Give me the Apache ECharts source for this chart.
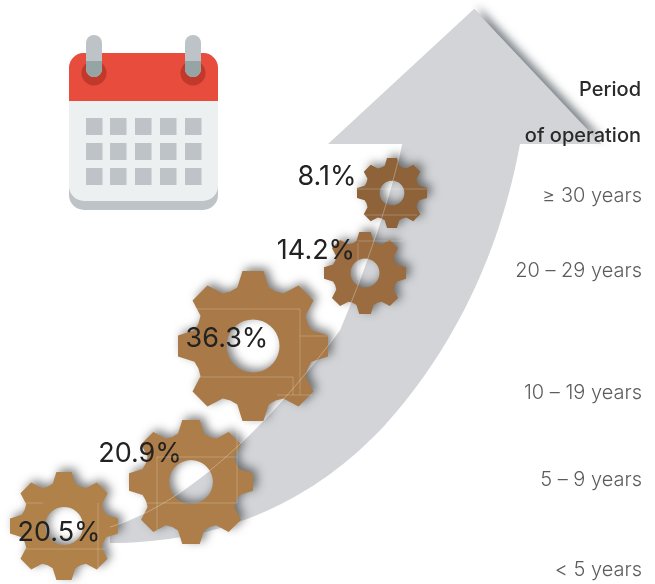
<!DOCTYPE html>
<html>
<head>
<meta charset="utf-8">
<style>
  html, body { margin: 0; padding: 0; background: #fff; }
  #viz { width: 655px; height: 584px; }
</style>
<script src="https://cdn.jsdelivr.net/npm/echarts@6/dist/echarts.min.js"></script>
</head>
<body>
<div id="viz"></div>
<script>
// --- data --- //
const periods = ['≥ 30 years', '20 – 29 years', '10 – 19 years', '5 – 9 years', '< 5 years'];
const shares = [8.1, 14.2, 36.3, 20.9, 20.5];

// --- layout of the infographic, in page pixels --- //
const gearX = [392, 365, 253, 191, 64];
const gearY = [193, 273, 346, 482, 526];
const gearRadius = [35, 41, 75, 62, 54];
const gearColor = ['#8e6339', '#9a6c40', '#a97a47', '#ad7e49', '#b08148'];
const labelShift = [[-65, -16], [-49, -22], [-26, -7], [-51, -28], [-5, 7]];
const periodY = [196, 271, 393, 480, 570];

// faint construction lines that show on the gears
const faintLines = [
  [197, 309, 300, 309], [300, 309, 300, 395], [300, 336, 328, 336], [198, 377, 293, 377], [293, 377, 293, 395], [277, 395, 312, 395],
  [157, 457, 237, 457], [237, 427, 237, 503], [145, 503, 237, 503], [157, 457, 157, 530],
  [25, 503, 43, 503], [98, 503, 98, 568], [25, 549, 105, 549],
  [358, 243, 358, 280], [358, 241, 403, 241],
  [357, 189, 427, 189], [365, 215, 417, 215]
];

const FONT = 'Inter';

// --- gear outline, 8 teeth and a hole, in a unit box --- //
function gearPath() {
  const pts = [];
  const teeth = 8;
  for (let i = 0; i < teeth; i++) {
    const a = (i * 360) / teeth - 90;
    [[-22.5, 0.78], [-15, 0.8], [-8, 1], [8, 1], [15, 0.8]].forEach(function (p) {
      const t = ((a + p[0]) * Math.PI) / 180;
      pts.push((100 + 100 * p[1] * Math.cos(t)).toFixed(2) + ' ' + (100 + 100 * p[1] * Math.sin(t)).toFixed(2));
    });
  }
  let d = 'M' + pts.join('L') + 'Z';
  // hole, drawn the other way round so that it stays open
  const r = 35;
  d += 'M' + (100 + r) + ' 100';
  for (let k = 1; k <= 36; k++) {
    const t = (-k * 10 * Math.PI) / 180;
    d += 'L' + (100 + r * Math.cos(t)).toFixed(2) + ' ' + (100 + r * Math.sin(t)).toFixed(2);
  }
  return 'path://' + d + 'Z';
}

// --- calendar icon --- //
function calendarParts() {
  const parts = [
    { type: 'rect', shape: { x: 69, y: 53, width: 149, height: 157, r: 15 }, style: { fill: '#bdc3c7' } },
    { type: 'rect', shape: { x: 69, y: 95, width: 149, height: 106, r: [0, 0, 15, 15] }, style: { fill: '#ecf0f1' } },
    { type: 'rect', shape: { x: 69, y: 53, width: 149, height: 48, r: [15, 15, 0, 0] }, style: { fill: '#e74c3c' } }
  ];
  [94, 193].forEach(function (cx) {
    parts.push({ type: 'circle', shape: { cx: cx, cy: 73, r: 12.5 }, style: { fill: '#c0392b' } });
    parts.push({ type: 'rect', shape: { x: cx - 8, y: 35, width: 16, height: 42, r: 8 }, style: { fill: '#bdc3c7' } });
    parts.push({ type: 'rect', shape: { x: cx - 8, y: 61, width: 16, height: 16, r: [0, 0, 8, 8] }, style: { fill: '#95a5a5' } });
  });
  [86, 110, 135, 160, 185].forEach(function (x) {
    [118, 143, 168].forEach(function (y) {
      parts.push({ type: 'rect', shape: { x: x, y: y, width: 16.5, height: 17 }, style: { fill: '#bdc3c7' } });
    });
  });
  return parts;
}

// --- arrow outline: straight head plus two bezier edges for the shaft --- //
function bezier(p0, p1, p2, p3) {
  const out = [];
  for (let k = 1; k <= 40; k++) {
    const t = k / 40;
    const u = 1 - t;
    out.push([
      u * u * u * p0[0] + 3 * u * u * t * p1[0] + 3 * u * t * t * p2[0] + t * t * t * p3[0],
      u * u * u * p0[1] + 3 * u * u * t * p1[1] + 3 * u * t * t * p2[1] + t * t * t * p3[1]
    ]);
  }
  return out;
}
const innerEdge = [[110, 527]]
  .concat(bezier([110, 527], [185, 505], [265, 430], [340, 330]))
  .concat(bezier([340, 330], [365, 270], [390, 200], [402, 144]));
const arrowPoints = [[474, 9], [601, 144], [520, 144]]
  .concat(bezier([520, 144], [505, 225], [470, 330], [385, 425]))
  .concat(bezier([385, 425], [320, 495], [230, 543], [110, 543]))
  .concat(innerEdge)
  .concat([[328, 144]]);

const option = {
  animation: false,
  grid: { left: 0, right: 0, top: 0, bottom: 0 },
  xAxis: { type: 'value', min: 0, max: 655, show: false },
  yAxis: { type: 'value', min: 0, max: 584, inverse: true, show: false },
  graphic: [
    // shadow along the right edge of the arrow head
    {
      type: 'polygon', z: 1,
      shape: { points: [[474, 9], [601, 144], [500, 100]] },
      style: { fill: '#9aa0a5', shadowBlur: 8, shadowColor: 'rgba(80,88,95,0.75)', shadowOffsetX: 4, shadowOffsetY: -3 }
    },
    { type: 'polygon', z: 1, shape: { points: arrowPoints }, style: { fill: '#d2d4d7' } },
    { type: 'group', z: 1, children: calendarParts() },
    // the arrow's inner edge and the construction lines show through the gears
    { type: 'polyline', z: 5, silent: true, shape: { points: innerEdge }, style: { fill: null, stroke: 'rgba(255,255,255,0.3)', lineWidth: 1 } }
  ].concat(faintLines.map(function (s) {
    return {
      type: 'line', z: 5, silent: true,
      shape: { x1: s[0], y1: s[1], x2: s[2], y2: s[3] },
      style: { stroke: 'rgba(255,255,255,0.22)', lineWidth: 1 }
    };
  })).concat([
    { type: 'text', z: 10, style: { text: 'Period', x: 641, y: 90, align: 'right', verticalAlign: 'middle', font: '500 20px ' + FONT, fill: '#2a2a2a' } },
    { type: 'text', z: 10, style: { text: 'of operation', x: 641, y: 136, align: 'right', verticalAlign: 'middle', font: '500 20px ' + FONT, fill: '#2a2a2a' } }
  ]),
  series: [
    {
      type: 'scatter',
      name: 'Share',
      symbol: gearPath(),
      silent: true,
      z: 3,
      data: shares.map(function (v, i) {
        return {
          value: [gearX[i], gearY[i], v],
          symbolSize: gearRadius[i] * 2,
          itemStyle: {
            color: gearColor[i],
            opacity: 1,
            shadowBlur: 10,
            shadowColor: 'rgba(40,40,40,0.6)',
            shadowOffsetX: 4,
            shadowOffsetY: -3
          },
          label: { offset: labelShift[i] }
        };
      }),
      label: {
        show: true,
        position: 'inside',
        formatter: function (p) { return p.value[2].toFixed(1) + '%'; },
        fontFamily: FONT,
        fontSize: 27,
        color: '#222'
      }
    },
    {
      type: 'scatter',
      name: 'Period',
      symbolSize: 0,
      silent: true,
      z: 4,
      data: periods.map(function (name, i) {
        return { name: name, value: [642, periodY[i]] };
      }),
      label: {
        show: true,
        position: 'left',
        distance: 0,
        formatter: '{b}',
        fontFamily: FONT,
        fontWeight: 300,
        fontSize: 20,
        color: '#333'
      }
    }
  ]
};

const chart = echarts.init(document.getElementById('viz'));
chart.setOption(option);
</script>
</body>
</html>
